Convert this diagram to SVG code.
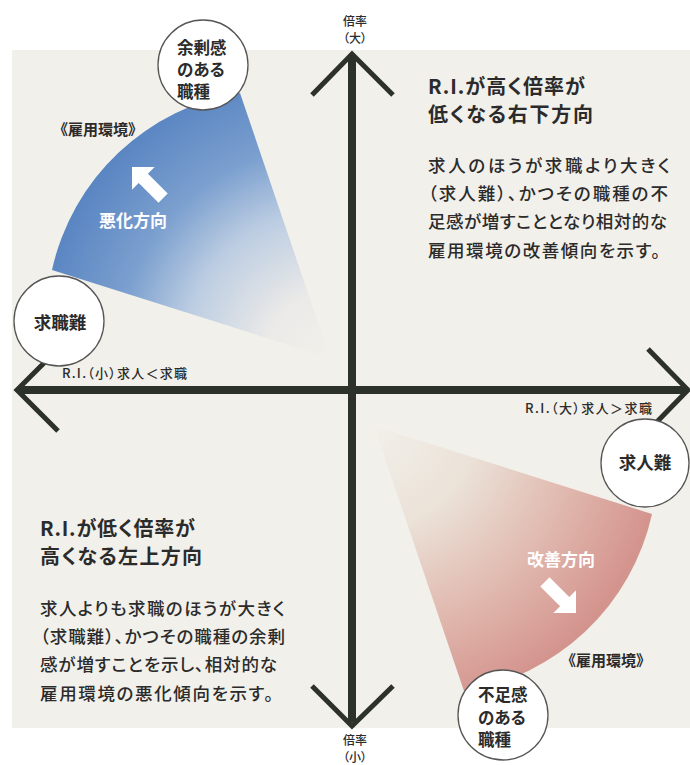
<svg xmlns="http://www.w3.org/2000/svg" width="690" height="765" viewBox="0 0 690 765">
<style>
  text { font-family: "Noto Sans CJK JP", "Noto Sans", sans-serif; fill: #2b2b2b; font-feature-settings: "palt"; }
  .ax { fill: none; stroke: #2c3229; stroke-width: 8; }
  .chev { fill: none; stroke: #2c3229; stroke-width: 5; stroke-linejoin: miter; }
  .node circle { fill: #ffffff; stroke: #555555; stroke-width: 1.3; }
  .nt { font-size: 16.5px; font-weight: 700; }
  .head { font-size: 20px; font-weight: 700; }
  .body { font-size: 17.5px; font-weight: 500; }
  .small { font-size: 12px; font-weight: 500; text-anchor: middle; }
  .axl { font-size: 13px; font-weight: 500; }
  .dir { font-size: 17px; font-weight: 700; fill: #ffffff; text-anchor: middle; }
  .env { font-size: 15px; font-weight: 700; text-anchor: middle; font-feature-settings: normal; }
  .barrow { fill: #ffffff; }
</style>
<defs>
  <radialGradient id="gBlue" gradientUnits="userSpaceOnUse" cx="330" cy="358" r="295">
    <stop offset="0" stop-color="#f2f0ea"/>
    <stop offset="0.22" stop-color="#ebeae8"/>
    <stop offset="0.5" stop-color="#bccde2"/>
    <stop offset="0.72" stop-color="#7ca0cf"/>
    <stop offset="1" stop-color="#5985c2"/>
  </radialGradient>
  <radialGradient id="gRed" gradientUnits="userSpaceOnUse" cx="374" cy="426" r="290">
    <stop offset="0" stop-color="#f2f0ea"/>
    <stop offset="0.35" stop-color="#ebe2d8"/>
    <stop offset="0.7" stop-color="#e0b8ae"/>
    <stop offset="1" stop-color="#d4948e"/>
  </radialGradient>
  <polygon id="blk" points="0,0 -16,-16 -16,-6.5 -44,-6.5 -44,6.5 -16,6.5 -16,16"/>
</defs>

<rect x="0" y="0" width="690" height="765" fill="#ffffff"/>
<rect x="12" y="50" width="678" height="678" fill="#f2f0ea"/>

<g id="fan-blue">
  <path d="M 330 358 L 52 270 A 229 229 0 0 1 240 93 Z" fill="url(#gBlue)"/>
  <use href="#blk" class="barrow" transform="translate(132,167) rotate(225)"/>
  <text class="dir" x="133" y="227">悪化方向</text>
</g>
<g id="fan-red">
  <path d="M 374 426 L 652 514 A 229 229 0 0 1 464 691 Z" fill="url(#gRed)"/>
  <use href="#blk" class="barrow" transform="translate(576,613) rotate(45)"/>
  <text class="dir" x="561" y="566">改善方向</text>
</g>

<g id="connectors">
  <line class="ax" x1="352" y1="56" x2="352" y2="722"/>
  <line class="ax" x1="20" y1="390" x2="686" y2="390"/>
  <polyline class="chev" points="312,95 352,54 393,95"/>
  <polyline class="chev" points="312,686 352,726 393,686"/>
  <polyline class="chev" points="58,431 17,390 58,349"/>
  <polyline class="chev" points="648,349 688,390 648,431"/>
</g>

<g id="axis-labels">
  <text class="small" x="355" y="26">倍率</text>
  <text class="small" x="355" y="43">（大）</text>
  <text class="small" x="355" y="745">倍率</text>
  <text class="small" x="355" y="762">（小）</text>
  <text class="axl" x="62" y="378" textLength="125">R.I.（小）求人＜求職</text>
  <text class="axl" x="525" y="413" textLength="127">R.I.（大）求人＞求職</text>
</g>

<g id="node-surplus" class="node">
  <circle cx="203" cy="65" r="45"/>
  <text class="nt" x="177" y="54">余剰感</text>
  <text class="nt" x="177" y="76">のある</text>
  <text class="nt" x="177" y="98">職種</text>
</g>
<g id="node-jobseek" class="node">
  <circle cx="59" cy="321" r="45"/>
  <text class="nt" x="60" y="329" text-anchor="middle" style="font-size:17.5px">求職難</text>
</g>
<g id="node-recruit" class="node">
  <circle cx="645" cy="463" r="44"/>
  <text class="nt" x="645" y="469" text-anchor="middle" style="font-size:17.5px">求人難</text>
</g>
<g id="node-shortage" class="node">
  <circle cx="503" cy="715" r="45"/>
  <text class="nt" x="478" y="701">不足感</text>
  <text class="nt" x="478" y="724">のある</text>
  <text class="nt" x="478" y="746">職種</text>
</g>

<g id="env-labels">
  <text class="env" x="98" y="135">《雇用環境》</text>
  <text class="env" x="606" y="666">《雇用環境》</text>
</g>

<g id="text-upper-right">
  <text class="head" x="428" y="94" textLength="157">R.I.が高く倍率が</text>
  <text class="head" x="428" y="122" textLength="165">低くなる右下方向</text>
  <text class="body" x="428" y="172" textLength="242">求人のほうが求職より大きく</text>
  <text class="body" x="428" y="200" textLength="240">（求人難）、かつその職種の不</text>
  <text class="body" x="428" y="228" textLength="239">足感が増すこととなり相対的な</text>
  <text class="body" x="428" y="257" textLength="232">雇用環境の改善傾向を示す。</text>
</g>

<g id="text-lower-left">
  <text class="head" x="40" y="536" textLength="155">R.I.が低く倍率が</text>
  <text class="head" x="40" y="564" textLength="162">高くなる左上方向</text>
  <text class="body" x="40" y="615" textLength="245">求人よりも求職のほうが大きく</text>
  <text class="body" x="40" y="643" textLength="245">（求職難）、かつその職種の余剰</text>
  <text class="body" x="40" y="671" textLength="237">感が増すことを示し、相対的な</text>
  <text class="body" x="40" y="700" textLength="233">雇用環境の悪化傾向を示す。</text>
</g>
</svg>
